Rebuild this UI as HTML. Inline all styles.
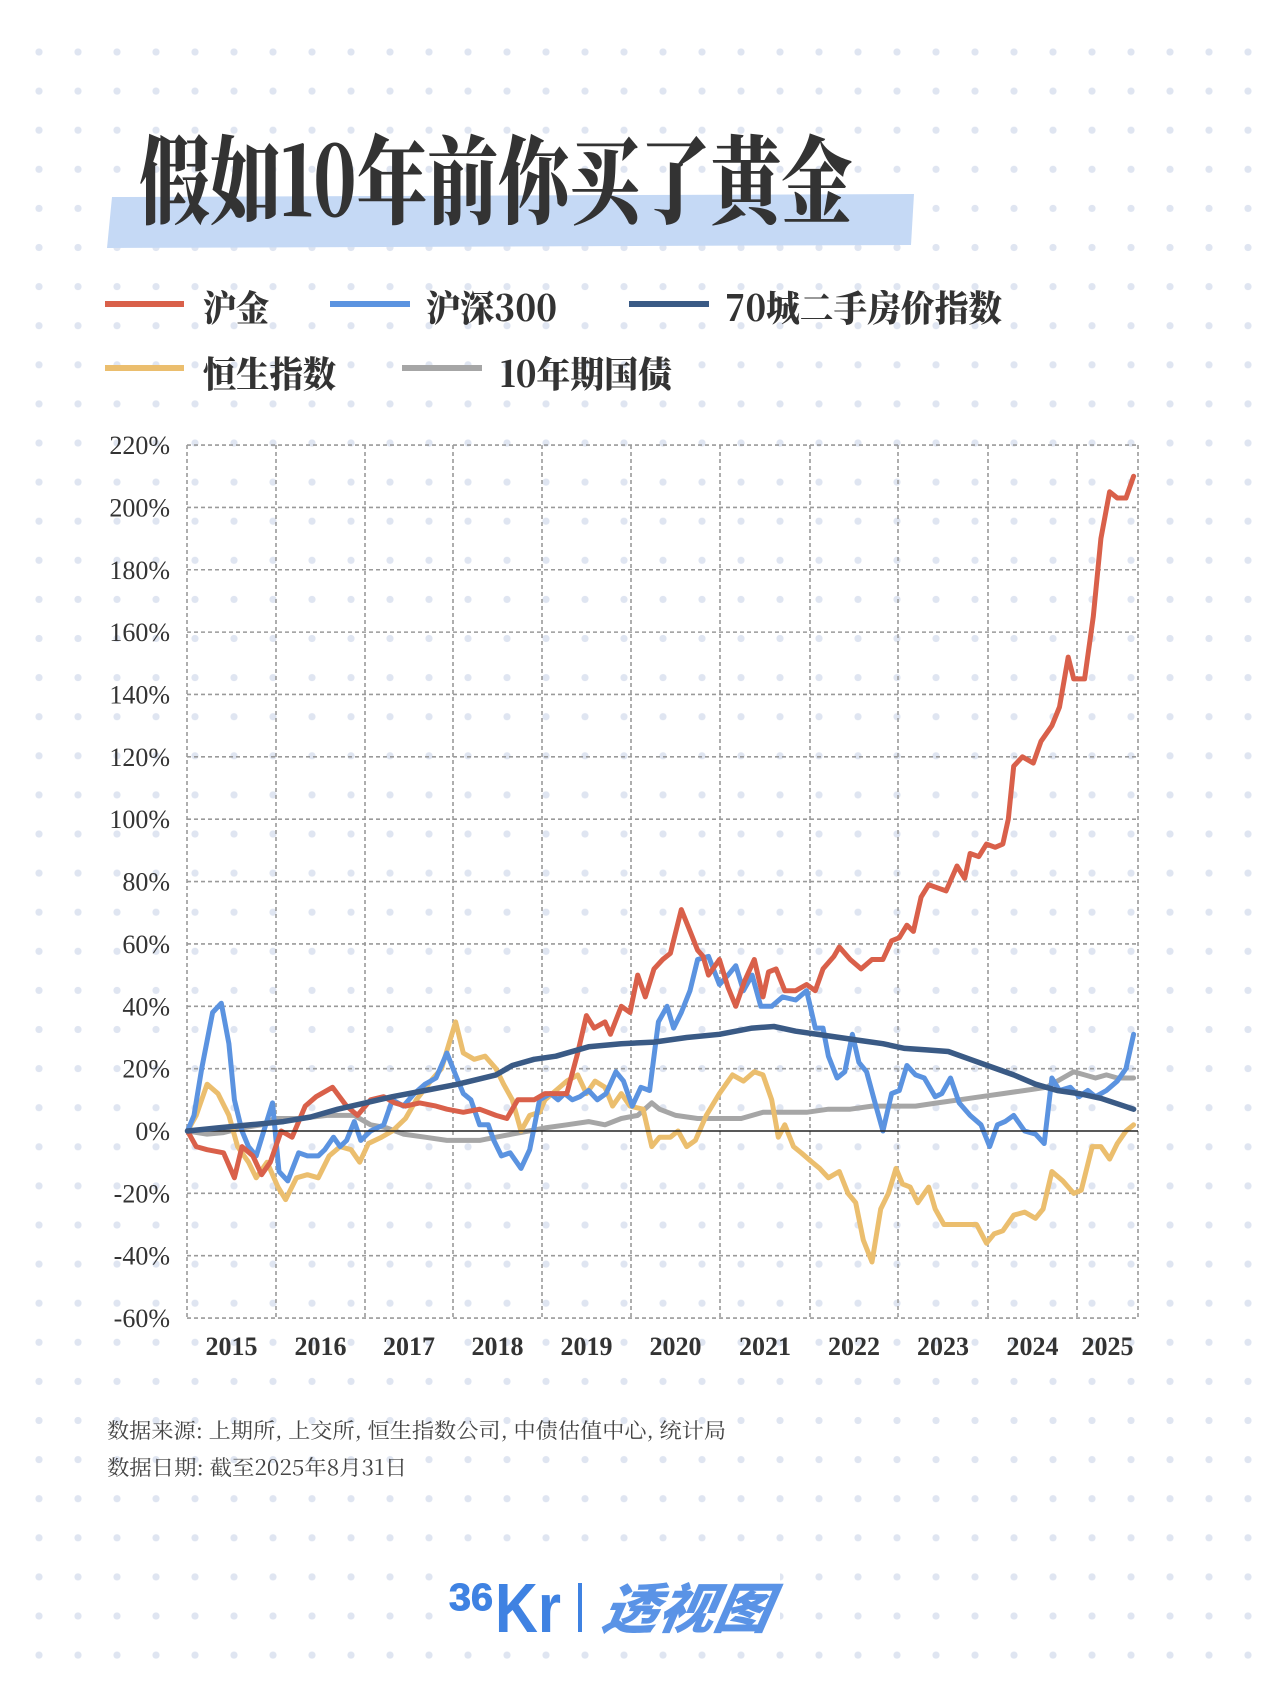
<!DOCTYPE html>
<html><head><meta charset="utf-8">
<style>
html,body{margin:0;padding:0;background:#fff;}
svg{display:block;}
</style></head>
<body>
<svg id="s" width="1280" height="1707" viewBox="0 0 1280 1707" xmlns="http://www.w3.org/2000/svg">
<defs>
<pattern id="dots" x="117" y="52" width="39" height="39.1" patternUnits="userSpaceOnUse">
<circle cx="0" cy="0" r="3.6" fill="#dfe5f1"/><circle cx="39" cy="0" r="3.6" fill="#dfe5f1"/><circle cx="0" cy="39.1" r="3.6" fill="#dfe5f1"/><circle cx="39" cy="39.1" r="3.6" fill="#dfe5f1"/>
</pattern>
</defs>
<rect x="0" y="0" width="1280" height="1707" fill="#fff"/>
<rect x="20" y="40" width="1250" height="1540" fill="url(#dots)"/>
<rect x="20" y="1580" width="1250" height="90" fill="url(#dots)"/>
<polygon points="112,197 914,194 911,245 107,248" fill="#c5d9f5"/>
<text x="139" y="216" font-family="'Noto Serif CJK SC','Noto Sans CJK SC',serif" font-weight="900" font-size="96" fill="#333" textLength="713" lengthAdjust="spacingAndGlyphs">假如10年前你买了黄金</text>
<g font-family="'Noto Serif CJK SC','Noto Sans CJK SC',serif" font-weight="900" font-size="36" fill="#333">
<rect x="105" y="301" width="79" height="6" fill="#d9604a"/>
<text x="203" y="321" textLength="66" lengthAdjust="spacingAndGlyphs">沪金</text>
<rect x="330" y="301" width="80" height="6" fill="#5b93e0"/>
<text x="426" y="321" textLength="131" lengthAdjust="spacingAndGlyphs">沪深300</text>
<rect x="629" y="301" width="80" height="6" fill="#3a5a85"/>
<text x="725" y="321" textLength="277" lengthAdjust="spacingAndGlyphs">70城二手房价指数</text>
<rect x="105" y="365" width="79" height="6" fill="#ebbe6e"/>
<text x="203" y="387" textLength="133" lengthAdjust="spacingAndGlyphs">恒生指数</text>
<rect x="402" y="365" width="80" height="6" fill="#a6a6a6"/>
<text x="500" y="387" textLength="172" lengthAdjust="spacingAndGlyphs">10年期国债</text>
</g>
<g id="grid" stroke="#9a9a9a" stroke-width="1.6" stroke-dasharray="4,3" fill="none"></g>
<g id="ylab" font-family="'Liberation Serif',serif" font-size="26" fill="#333" text-anchor="end"></g>
<g id="xlab" font-family="'Liberation Serif',serif" font-weight="bold" font-size="26" fill="#333" text-anchor="middle"></g>
<g id="series" fill="none" stroke-width="5" stroke-linejoin="round" stroke-linecap="round"></g>
<line x1="187" y1="1131" x2="1138" y2="1131" stroke="#222" stroke-width="1.6"/>
<g id="series2" fill="none" stroke-width="5.5" stroke-linejoin="round" stroke-linecap="round"></g>
<g font-family="'Noto Serif CJK SC','Noto Sans CJK SC',serif" font-size="21" fill="#444">
<text x="107" y="1438" textLength="619" lengthAdjust="spacingAndGlyphs">数据来源: 上期所, 上交所, 恒生指数公司, 中债估值中心, 统计局</text>
<text x="107" y="1475" textLength="300" lengthAdjust="spacingAndGlyphs">数据日期: 截至2025年8月31日</text>
</g>
<rect x="440" y="1570" width="340" height="72" fill="#fff"/>
<g font-family="'Liberation Sans',sans-serif" font-weight="bold" fill="#3f82e2">
<text x="449" y="1610" font-size="38" textLength="44" lengthAdjust="spacingAndGlyphs" stroke="#3f82e2" stroke-width="1">36</text>
<text x="495" y="1632" font-size="70" textLength="66" lengthAdjust="spacingAndGlyphs">Kr</text>
<rect x="578" y="1583" width="4" height="49" fill="#3f82e2"/>
<text x="600" y="1628" font-family="'Noto Sans CJK SC',sans-serif" font-weight="900" font-size="54" font-style="italic" fill="#5a93e6" textLength="168" lengthAdjust="spacingAndGlyphs" transform="skewX(-10) translate(287,0)">透视图</text>
</g>
</svg>
<script>
(function(){
var NS="http://www.w3.org/2000/svg";
function el(t,a,p){var e=document.createElementNS(NS,t);for(var k in a)e.setAttribute(k,a[k]);p.appendChild(e);return e;}
var L=187,R=1138,Z=1131,ST=62.36/20;
function Y(v){return Z-v*ST;}
var g=document.getElementById('grid');
for(var v=-60;v<=220;v+=20){ if(v!==0) el('line',{x1:L,y1:Y(v),x2:R,y2:Y(v)},g);
 var t=el('text',{x:170,y:Y(v)+9},document.getElementById('ylab'));t.textContent=v+'%';}
var vx=[187,276,365,453,542,631,720,810,898,988,1077,1138];
vx.forEach(function(x){el('line',{x1:x,y1:445,x2:x,y2:1317},g);});
var yrs=['2015','2016','2017','2018','2019','2020','2021','2022','2023','2024','2025'];
for(var i=0;i<11;i++){var t=el('text',{x:(vx[i]+vx[i+1])/2,y:1355},document.getElementById('xlab'));t.textContent=yrs[i];}
function P(arr){var s=[];for(var i=0;i<arr.length;i+=2){s.push((arr[i]*1.09).toFixed(1)+','+Y(arr[i+1]).toFixed(1));}return s.join(' ');}
var gray=[172,0,190,-1,205,-0.5,222,1,240,2,252,4,275,4,300,5,325,5,340,2,355,1,370,-1,390,-2,410,-3,428,-3,440,-3,455,-2,470,-1,485,0,500,1,520,2,540,3,555,2,570,4,585,5,598,9,605,7,620,5,640,4,660,4,680,4,700,6,720,6,740,6,760,7,780,7,800,8,820,8,840,8,860,9,880,10,900,11,920,12,940,13,960,14,975,17,985,19,995,18,1005,17,1015,18,1025,17,1040,17];
var yel=[172,0,180,5,190,15,200,12,210,5,218,-5,228,-10,235,-15,245,-10,255,-18,262,-22,272,-15,282,-14,292,-15,302,-8,312,-5,322,-6,330,-10,338,-4,350,-2,360,0,372,4,382,10,395,16,405,20,418,35,425,25,435,23,445,24,455,20,462,15,470,10,478,0,486,5,495,6,500,10,510,13,520,16,530,18,538,12,546,16,555,14,562,8,570,12,578,8,590,7,598,-5,605,-2,615,-2,622,0,630,-5,638,-3,648,5,660,12,672,18,682,16,692,19,700,18,708,10,714,-2,720,2,728,-5,735,-7,745,-10,752,-12,760,-15,770,-13,778,-20,785,-23,792,-35,800,-42,808,-25,815,-20,822,-12,828,-17,835,-18,842,-23,852,-18,858,-25,866,-30,876,-30,885,-30,896,-30,905,-36,912,-33,920,-32,930,-27,940,-26,950,-28,957,-25,965,-13,975,-16,985,-20,992,-19,1002,-5,1010,-5,1018,-9,1025,-4,1033,0,1040,2];
var blue=[172,0,178,5,185,20,195,38,203,41,210,28,215,10,222,0,228,-5,235,-8,242,0,250,9,256,-13,264,-16,274,-7,282,-8,292,-8,298,-6,306,-2,312,-5,318,-3,325,3,331,-3,340,0,352,2,360,10,370,8,380,12,390,15,400,17,410,25,418,18,425,12,432,10,440,2,448,2,453,-3,460,-8,468,-7,478,-12,486,-6,495,10,505,12,512,10,518,12,525,10,532,11,540,13,548,10,556,12,565,19,572,16,580,8,588,14,596,13,604,35,612,40,618,33,625,38,633,45,640,55,650,56,660,47,668,50,675,53,682,45,690,50,698,40,708,40,718,43,730,42,740,45,748,33,755,33,760,24,768,17,775,19,782,31,788,22,795,19,802,10,810,0,818,12,825,13,832,21,840,18,848,17,858,11,864,12,872,17,880,9,890,5,900,2,908,-5,915,2,922,3,930,5,940,0,950,-1,958,-4,965,17,972,13,982,14,990,11,998,13,1005,11,1015,13,1025,16,1033,20,1040,31];
var red=[172,0,180,-5,190,-6,205,-7,215,-15,222,-5,232,-8,240,-14,248,-10,258,0,268,-2,280,8,290,11,305,14,318,8,328,5,340,10,352,11,362,9,372,8,385,9,400,8,410,7,425,6,440,7,455,5,465,4,475,10,490,10,500,12,520,12,530,25,538,37,545,33,555,35,560,31,570,40,578,38,585,50,592,43,600,52,608,55,615,57,625,71,632,65,640,58,645,56,650,50,660,55,668,46,675,40,683,48,692,55,700,43,705,51,712,52,720,45,730,45,740,47,748,45,755,52,765,56,770,59,780,55,790,52,800,55,810,55,818,61,825,62,832,66,838,64,845,75,852,79,860,78,868,77,878,85,885,81,890,89,898,88,905,92,913,91,920,92,925,100,930,117,938,120,948,118,955,125,965,130,972,136,980,152,985,145,995,145,1003,165,1010,190,1018,205,1025,203,1033,203,1040,210];
var navy=[172,0,200,1,230,2,260,3,285,4.5,310,7,335,9,360,11,390,13,420,15,455,18,470,21,490,23,510,24,540,27,570,28,600,28.5,630,30,660,31,690,33,710,33.5,730,32,760,30.5,790,29,810,28,830,26.5,850,26,870,25.5,890,23,910,20.5,930,18,950,15,970,13,990,12,1010,10.5,1040,7];
var s=document.getElementById('series');
el('polyline',{points:P(gray),stroke:'#a6a6a6'},s);
el('polyline',{points:P(yel),stroke:'#ebbe6e'},s);
el('polyline',{points:P(blue),stroke:'#5b93e0'},s);
el('polyline',{points:P(red),stroke:'#d9604a'},s);
el('polyline',{points:P(navy),stroke:'#3a5a85'},document.getElementById('series2'));
})();
</script>
</body></html>
